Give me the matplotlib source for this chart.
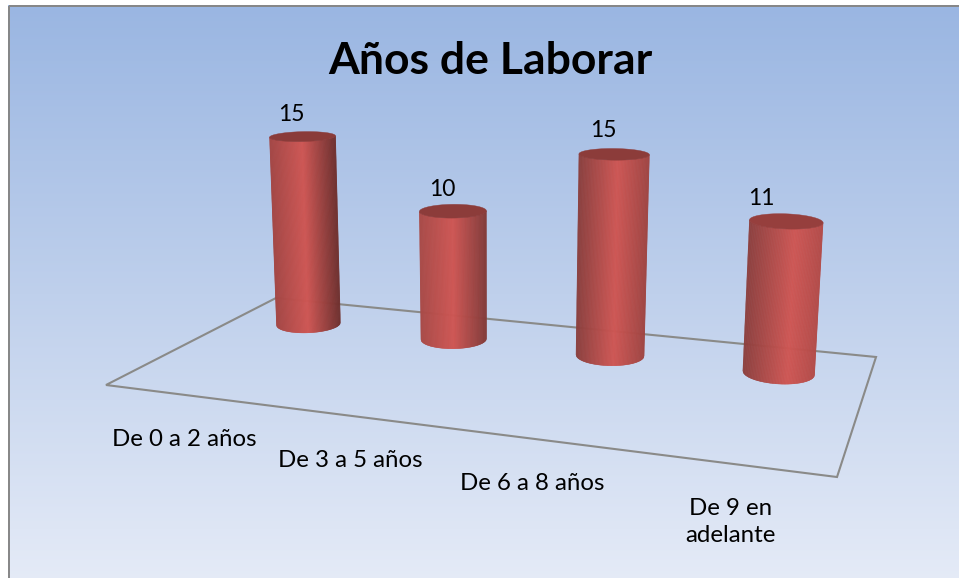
import numpy as np
import matplotlib
matplotlib.use("Agg")
import matplotlib.pyplot as plt
from matplotlib.collections import PolyCollection
from matplotlib.colors import LinearSegmentedColormap
from matplotlib.patches import Polygon, Rectangle

# ---- data ----
title = "Años de Laborar"
categories = ["De 0 a 2 años", "De 3 a 5 años", "De 6 a 8 años", "De 9 en\nadelante"]
values = [15, 10, 15, 11]

# ---- style ----
W, H = 959, 578
FONT = ["Lato", "Open Sans", "DejaVu Sans"]
GRAY = "#8a8a88"
label_shift = [(-11, -22), (-11, -22), (-11, -24), (-25, -23)]
edge_left = ["#a34644", "#a84a47", "#8a3f3d", "#8c3f3d"]
edge_right = ["#6f302e", "#833b39", "#a04542", "#b34b48"]
peak_at = [0.5, 0.5, 0.55, 0.62]
top_color = ["#8a3b39", "#8c3c3a", "#8c3c3a", "#963f3d"]

# projective camera: (s along categories, t depth, z value) -> pixels
CAM = np.array([
    [595.0, 233.2, -1.18, 106.0],
    [14.5, -18.8, -14.7, 385.0],
    [-0.1625, 0.2289, -0.0024, 1.0],
])


def project(s, t, z):
    s, t, z = np.broadcast_arrays(s, t, z)
    p = np.stack([s, t, z, np.ones_like(s, dtype=float)])
    q = np.tensordot(CAM, p, axes=(1, 0))
    return q[0] / q[2], q[1] / q[2]


def front_arc(x, y, u):
    """Lower edge of a projected ring, sampled left to right at fractions u."""
    i0, i1 = np.argmin(x), np.argmax(x)
    k = (np.arange(len(x)) + i0) % len(x)
    span = (i1 - i0) % len(x)
    a, b = k[:span + 1], k[span:]
    if y[a].mean() < y[b].mean():
        a = b[::-1]
    xs = x.min() + u * (x.max() - x.min())
    return xs, np.interp(xs, x[a], y[a])


fig = plt.figure(figsize=(W / 100, H / 100), dpi=100, facecolor="white")
ax = fig.add_axes([0, 0, 1, 1])

# background gradient and frame
bg = LinearSegmentedColormap.from_list(
    "bg", [(0, "#9ab6e2"), (0.5, "#bfd0ec"), (1, "#e5ebf7")])
ax.imshow(np.linspace(0, 1, 256)[:, None], cmap=bg, aspect="auto",
          extent=(8, W + 5, H + 5, 5), zorder=0)
ax.add_patch(Rectangle((8.5, 5.5), W, H, fill=False, ec="#868686", lw=1.4, zorder=1))

# floor
fx, fy = project(np.array([0, 1, 1, 0.0]), np.array([0, 0, 1, 1.0]), 0.0)
ax.add_patch(Polygon(np.c_[fx, fy], closed=True, fill=False, ec=GRAY, lw=1.5,
                     joinstyle="miter", zorder=2))

# cylinders
RS, RT = 0.0505, 0.105
DEPTH = 0.75
N = 720
M = 120
theta = np.linspace(0, 2 * np.pi, N, endpoint=False)
u = np.linspace(0, 1, M + 1)

n = len(values)
for i, v in enumerate(values):
    sc = (i + 0.5) / n
    s = sc + RS * np.cos(theta)
    t = DEPTH + RT * np.sin(theta)
    bx, by = project(s, t, 0.0)
    tx, ty = project(s, t, float(v))
    xb, yb = front_arc(bx, by, u)
    xt, yt = front_arc(tx, ty, u)
    shade = LinearSegmentedColormap.from_list(
        f"shade{i}", [(0, edge_left[i]), (peak_at[i], "#cf5653"), (1, edge_right[i])])
    polys = [[(xb[k], yb[k]), (xb[k + 1], yb[k + 1]), (xt[k + 1], yt[k + 1]), (xt[k], yt[k])]
             for k in range(M)]
    cols = [shade((u[k] + u[k + 1]) / 2) for k in range(M)]
    ax.add_collection(PolyCollection(polys, facecolors=cols, edgecolors=cols,
                                     linewidths=0.3, zorder=3 + i))
    ax.add_patch(Polygon(np.c_[tx, ty], closed=True, fc=top_color[i], ec=top_color[i],
                         lw=0.3, zorder=3 + i))
    # value label
    cx, cy = project(sc, DEPTH, float(v))
    dx, dy = label_shift[i]
    ax.text(float(cx) + dx, float(cy) + dy, str(v), ha="center", va="center",
            fontsize=16.5, family=FONT, color="black", zorder=10)
    # category label
    ex, ey = project(sc, 0.0, 0.0)
    ax.text(float(ex), float(ey) + 34, categories[i], ha="center", va="top",
            fontsize=17.3, family=FONT, color="black", linespacing=1.39, zorder=10)

ax.text(490, 60.5, title, ha="center", va="center", fontsize=32, fontweight="bold",
        family=FONT, color="black", zorder=10)

ax.set_xlim(0, W)
ax.set_ylim(H, 0)
ax.axis("off")
fig.savefig("out.png", dpi=100, facecolor="white")
